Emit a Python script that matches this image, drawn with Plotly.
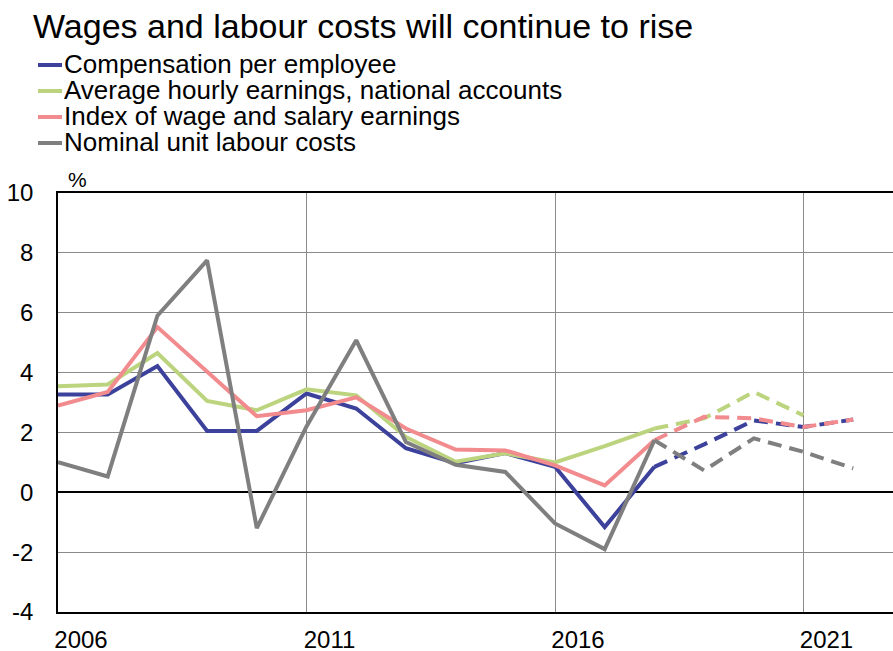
import plotly.graph_objects as go

years = list(range(2006, 2023))
actual_years = years[:13]          # 2006-2018
forecast_years = years[12:]        # 2018-2022

comp_actual = [3.27, 3.27, 4.22, 2.05, 2.05, 3.3, 2.8, 1.47, 0.97, 1.31, 0.85, -1.16, 0.85]
comp_forecast = [0.85, 1.6, 2.4, 2.18, 2.43]

hourly_actual = [3.54, 3.6, 4.65, 3.05, 2.74, 3.44, 3.24, 1.85, 1.02, 1.3, 1.0, 1.54, 2.13]
hourly_forecast = [2.13, 2.47, 3.35, 2.57]

index_actual = [2.9, 3.35, 5.52, 4.04, 2.54, 2.74, 3.17, 2.13, 1.43, 1.4, 0.9, 0.23, 1.74]
index_forecast = [1.74, 2.52, 2.47, 2.18, 2.43]

ulc_actual = [1.01, 0.53, 5.9, 7.75, -1.2, 2.2, 5.08, 1.68, 0.92, 0.68, -1.04, -1.9, 1.74]
ulc_forecast = [1.74, 0.73, 1.8, 1.35, 0.8]

y_ticks = [-4, -2, 0, 2, 4, 6, 8, 10]
y_ticktext = ["-4", "-2", "0", "2", "4", "6", "8", "10"]

series = [
    ("Compensation per employee", "#3c419b", comp_actual, comp_forecast),
    ("Average hourly earnings, national accounts", "#bcd47e", hourly_actual, hourly_forecast),
    ("Index of wage and salary earnings", "#f28b8e", index_actual, index_forecast),
    ("Nominal unit labour costs", "#7f7f7f", ulc_actual, ulc_forecast),
]

traces = []
for name, color, act, fc in series:
    traces.append(go.Scatter(
        x=actual_years, y=act, mode="lines", name=name,
        line=dict(color=color, width=4),
    ))
    traces.append(go.Scatter(
        x=forecast_years[:len(fc)], y=fc, mode="lines", name=name,
        line=dict(color=color, width=4, dash="14px,8px"),
    ))

# plot area: x 58..893 px, y 193..612 px
def px_x(p):
    return (p - 58) / 835

def px_y(p):
    return (612 - p) / 419

# hand-drawn legend (tight line spacing like the original)
annotations = []
shapes = []
for i, (name, color, _, _) in enumerate(series):
    yc = 65 + i * 26
    shapes.append(dict(
        type="line", xref="paper", yref="paper",
        x0=px_x(38), x1=px_x(62), y0=px_y(yc), y1=px_y(yc),
        line=dict(color=color, width=4),
    ))
    annotations.append(dict(
        text=name, xref="paper", yref="paper",
        x=px_x(62), y=px_y(yc - 1), xanchor="left", yanchor="middle",
        showarrow=False, font=dict(size=26),
    ))

annotations.append(dict(
    text="%", x=2006.4, y=px_y(179), xref="x", yref="paper",
    xanchor="center", yanchor="middle",
    showarrow=False, font=dict(size=21),
))

layout = go.Layout(
    width=893, height=651,
    margin=dict(l=58, r=0, t=193, b=39, autoexpand=False),
    paper_bgcolor="white", plot_bgcolor="white",
    font=dict(family="Liberation Sans, Arial, sans-serif", color="black", size=20),
    title=dict(
        text="Wages and labour costs will continue to rise",
        x=33 / 893, xref="container", xanchor="left",
        y=1 - 14 / 651, yref="container", yanchor="top",
        font=dict(size=34, color="black"),
    ),
    showlegend=False,
    xaxis=dict(
        range=[2006, 2006 + 835 / 49.7],
        tick0=2006, dtick=5, tickmode="linear",
        showgrid=True, gridcolor="#8a8a8a", gridwidth=1,
        showline=True, linecolor="black", linewidth=1.5, mirror=True,
        ticks="", ticklabelshift=23, ticklabelstandoff=5,
        tickfont=dict(size=24),
        zeroline=False,
    ),
    yaxis=dict(
        range=[-4, 10], tickmode="array", tickvals=y_ticks, ticktext=y_ticktext,
        showgrid=True, gridcolor="#8a8a8a", gridwidth=1,
        showline=True, linecolor="black", linewidth=1.5,
        zeroline=True, zerolinecolor="black", zerolinewidth=1.5,
        ticks="", ticklabelstandoff=18,
        tickfont=dict(size=24),
    ),
    annotations=annotations,
    shapes=shapes,
)

fig = go.Figure(traces, layout)
fig.write_html("out.html", config={"displayModeBar": False},
               post_script="document.body.style.margin='0';")
